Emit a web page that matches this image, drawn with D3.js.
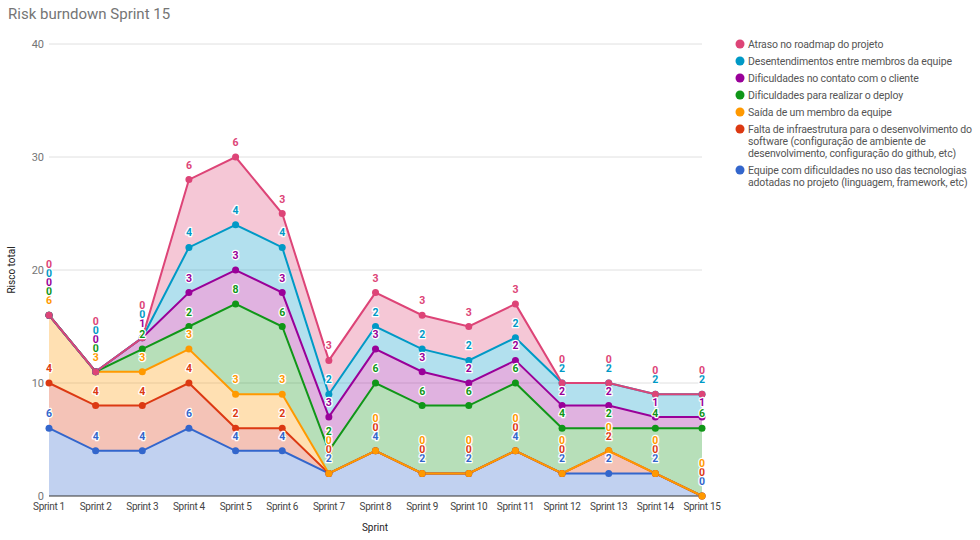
<!DOCTYPE html>
<html><head><meta charset="utf-8">
<script src="https://cdn.jsdelivr.net/npm/d3@7"></script>
<style>
body{margin:0;background:#fff;font-family:Roboto,"Noto Sans",sans-serif;}
svg text{font-family:Roboto,"Noto Sans",sans-serif;}
</style></head><body>
<svg id="c" width="980" height="540"></svg>
<script>
const sprints = ["Sprint 1","Sprint 2","Sprint 3","Sprint 4","Sprint 5","Sprint 6","Sprint 7","Sprint 8","Sprint 9","Sprint 10","Sprint 11","Sprint 12","Sprint 13","Sprint 14","Sprint 15"];
// bottom to top stacking order
const equipe      = [6,4,4,6,4,4,2,4,2,2,4,2,2,2,0];
const falta       = [4,4,4,4,2,2,0,0,0,0,0,0,2,0,0];
const saida       = [6,3,3,3,3,3,0,0,0,0,0,0,0,0,0];
const deploy      = [0,0,2,2,8,6,2,6,6,6,6,4,2,4,6];
const contato     = [0,0,1,3,3,3,3,3,3,2,2,2,2,1,1];
const desent      = [0,0,0,4,4,4,2,2,2,2,2,2,2,2,2];
const atraso      = [0,0,0,6,6,3,3,3,3,3,3,0,0,0,0];
const yTicks = [0,10,20,30,40];

const series = [
  {key:"equipe", color:"#3366cc", values:equipe,
   lines:["Equipe com dificuldades no uso das tecnologias","adotadas no projeto (linguagem, framework, etc)"]},
  {key:"falta", color:"#dc3912", values:falta,
   lines:["Falta de infraestrutura para o desenvolvimento do","software (configuração de ambiente de","desenvolvimento, configuração do github, etc)"]},
  {key:"saida", color:"#ff9900", values:saida, lines:["Saída de um membro da equipe"]},
  {key:"deploy", color:"#109618", values:deploy, lines:["Dificuldades para realizar o deploy"]},
  {key:"contato", color:"#990099", values:contato, lines:["Dificuldades no contato com o cliente"]},
  {key:"desent", color:"#0099c6", values:desent, lines:["Desentendimentos entre membros da equipe"]},
  {key:"atraso", color:"#dd4477", values:atraso, lines:["Atraso no roadmap do projeto"]}
];

const svg = d3.select("#c");
const x = d3.scalePoint().domain(sprints).range([49, 702]);
const y = d3.scaleLinear().domain([0,40]).range([496, 44]);

const table = sprints.map((s,i)=>{const o={sprint:s}; series.forEach(se=>o[se.key]=se.values[i]); return o;});
const stacked = d3.stack().keys(series.map(s=>s.key))(table);

// title
svg.append("text").attr("x",8).attr("y",19).attr("font-size",15).attr("fill","#757575").text("Risk burndown Sprint 15");

// gridlines
svg.append("g").selectAll("line").data(yTicks.filter(t=>t>0)).join("line")
  .attr("x1",49).attr("x2",702).attr("y1",d=>y(d)).attr("y2",d=>y(d))
  .attr("stroke","#e0e0e0").attr("stroke-width",1);
svg.append("g").selectAll("text").data(yTicks).join("text")
  .attr("x",44).attr("y",d=>y(d)+4).attr("text-anchor","end").attr("font-size",11).attr("fill","#757575").text(d=>d);

// areas
const area = d3.area().x((d,i)=>x(sprints[i])).y0(d=>y(d[0])).y1(d=>y(d[1]));
const line = d3.line().x((d,i)=>x(sprints[i])).y(d=>y(d[1]));
svg.append("g").selectAll("path").data(stacked).join("path")
  .attr("d",area).attr("fill",(d,i)=>series[i].color).attr("fill-opacity",0.3);

// baseline
svg.append("line").attr("x1",49).attr("x2",702).attr("y1",y(0)).attr("y2",y(0)).attr("stroke","#333").attr("stroke-width",1);

svg.append("g").selectAll("path").data(stacked).join("path")
  .attr("d",line).attr("fill","none").attr("stroke",(d,i)=>series[i].color).attr("stroke-width",2);

stacked.forEach((layer,si)=>{
  svg.append("g").selectAll("circle").data(layer).join("circle")
    .attr("cx",(d,i)=>x(sprints[i])).attr("cy",d=>y(d[1])).attr("r",3.5).attr("fill",series[si].color);
});

// data labels with simple collision avoidance
const lg = svg.append("g");
sprints.forEach((s,i)=>{
  let prev = Infinity;
  stacked.forEach((layer,si)=>{
    let cy = y(layer[i][1]) - 15;
    if (cy > prev - 9) cy = prev - 9;
    prev = cy;
    lg.append("text").attr("x",x(s)).attr("y",cy+4).attr("text-anchor","middle")
      .attr("font-size",10.5).attr("font-weight","bold").attr("fill",series[si].color)
      .attr("stroke","#fff").attr("stroke-width",2.5).attr("paint-order","stroke").attr("stroke-linejoin","round")
      .text(series[si].values[i]);
  });
});

// x axis labels
svg.append("g").selectAll("text").data(sprints).join("text")
  .attr("x",d=>x(d)).attr("y",510).attr("text-anchor","middle").attr("font-size",10).attr("letter-spacing",-0.3).attr("fill","#444").text(d=>d);
svg.append("text").attr("x",375).attr("y",531).attr("text-anchor","middle").attr("font-size",10).attr("fill","#222").text("Sprint");
svg.append("text").attr("transform","translate(15,270) rotate(-90)").attr("text-anchor","middle").attr("font-size",10).attr("fill","#222").text("Risco total");

// legend (top to bottom: reverse of stacking)
const leg = svg.append("g");
let ly = 44;
series.slice().reverse().forEach(se=>{
  leg.append("circle").attr("cx",740).attr("cy",ly).attr("r",4.5).attr("fill",se.color);
  se.lines.forEach((t,k)=>{
    leg.append("text").attr("x",748).attr("y",ly+4+k*12).attr("font-size",10.5).attr("letter-spacing",-0.15).attr("fill","#555").text(t);
  });
  ly += 17 + (se.lines.length-1)*12;
});
</script>
</body></html>
